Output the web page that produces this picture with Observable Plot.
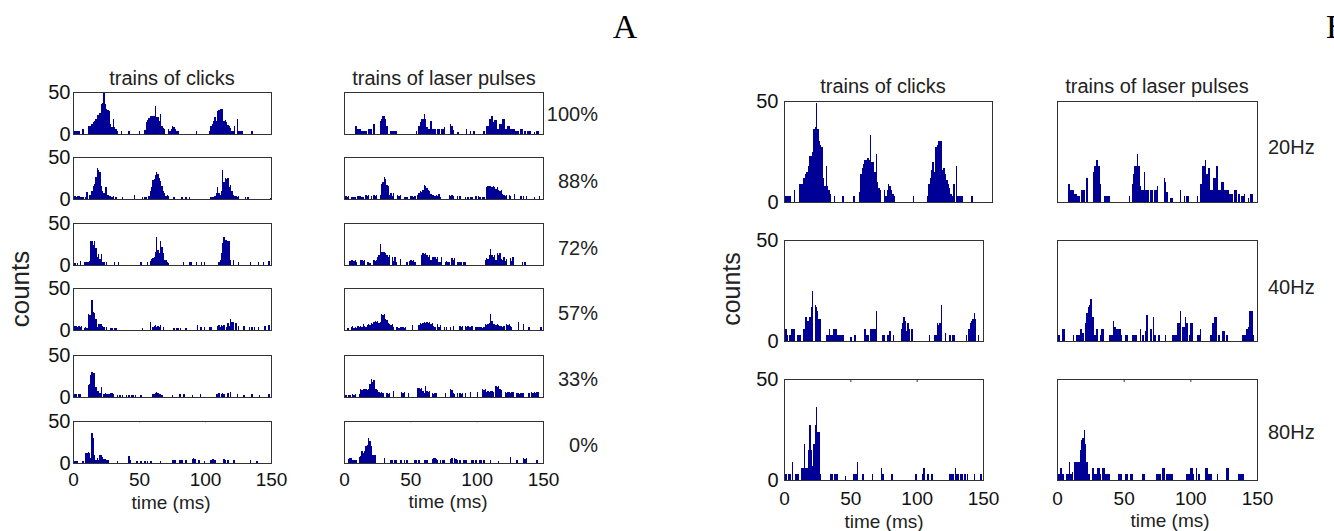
<!DOCTYPE html>
<html><head><meta charset="utf-8">
<script src="https://cdn.jsdelivr.net/npm/d3@7"></script>
<script src="https://cdn.jsdelivr.net/npm/@observablehq/plot@0.6"></script>
<style>
body{margin:0;background:#fff;}
#fig{position:relative;width:1334px;height:531px;overflow:hidden;background:#fff;font-family:"Liberation Sans",Arial,Helvetica,sans-serif;}
#fig svg.ann{position:absolute;left:0;top:0;pointer-events:none;}
</style></head><body><div id="fig"></div>
<script>
// ---------- labels / ticks ----------
const timeTicks = [0, 50, 100, 150];
const countTicks = [0, 50];
const columnTitles = ["trains of clicks", "trains of laser pulses"];
const percentLabels = ["100%", "88%", "72%", "57%", "33%", "0%"];
const rateLabels = ["20Hz", "40Hz", "80Hz"];
const panelLetters = ["A", "B"];
const xLabel = "time (ms)";
const yLabel = "counts";

// ---------- spike counts per 1 ms bin (0..149 ms) ----------
const clicks100 = [
 3,3,3,3,3,0,0,6,0,0,
 0,9,9,9,12,14,15,18,23,23,
 25,36,37,49,36,30,28,27,12,8,
 18,8,6,4,0,0,3,0,0,0,
 0,0,3,0,0,0,0,0,0,0,
 3,0,0,0,5,14,17,19,21,21,
 22,21,33,20,20,15,24,10,7,6,
 0,0,6,3,6,9,8,6,4,3,
 0,0,0,0,0,0,0,0,0,0,
 0,0,0,3,0,0,0,0,0,0,
 0,0,0,3,9,12,16,20,15,27,
 28,30,30,30,16,17,14,11,9,7,
 4,3,9,0,18,3,3,3,3,0,
 0,0,0,0,0,3,0,0,0,0,
 0,0,0,0,0,0,0,0,0,0];
const clicks88 = [
 3,3,2,3,3,2,2,2,0,2,
 8,0,5,5,10,15,18,26,37,35,
 32,15,10,7,14,14,5,3,3,2,
 3,0,2,0,0,0,0,2,0,0,
 0,0,0,0,0,0,5,0,0,0,
 0,0,2,0,2,2,0,3,9,14,
 23,24,28,32,30,25,22,15,10,7,
 3,5,3,0,0,0,2,0,0,0,
 0,0,2,0,0,2,0,0,2,0,
 0,0,0,0,0,0,0,0,0,0,
 0,0,0,0,2,2,2,4,7,14,
 7,5,10,34,20,25,24,25,14,17,
 9,5,3,3,2,3,0,0,0,0,
 2,0,2,0,0,0,0,0,0,0,
 0,0,0,0,0,0,0,0,0,1];
const clicks72 = [
 2,2,0,2,0,5,0,0,3,3,
 3,4,5,28,28,24,28,20,10,13,
 7,13,3,3,0,3,0,0,0,0,
 0,3,0,0,3,0,0,0,0,0,
 0,0,0,0,0,0,0,0,0,0,
 0,3,0,0,0,0,3,0,5,7,
 8,10,16,33,18,14,28,22,14,6,
 6,4,2,0,0,0,0,0,0,0,
 0,0,0,3,0,0,0,0,3,3,
 0,0,0,3,0,0,0,3,0,3,
 0,0,0,0,0,0,0,0,0,0,
 3,6,14,26,33,30,30,28,28,6,
 0,6,0,0,0,3,0,0,0,0,
 0,0,0,0,3,0,0,0,0,0,
 3,0,0,0,3,0,0,0,5,0];
const clicks57 = [
 4,5,5,4,5,4,5,0,2,3,
 2,19,18,18,36,22,20,13,3,7,
 7,7,5,3,0,3,0,0,2,2,
 0,2,2,0,0,0,0,0,0,0,
 0,0,0,0,0,0,0,0,0,0,
 0,0,2,0,0,0,0,0,9,0,
 4,5,6,4,5,3,6,0,4,0,
 0,0,0,0,0,0,2,0,2,2,
 0,2,0,0,0,2,0,0,0,0,
 0,0,0,0,6,0,3,3,0,3,
 0,0,0,3,3,0,0,0,0,5,
 6,4,6,5,6,0,3,8,5,13,
 10,9,0,8,0,5,0,0,0,5,
 0,0,0,3,0,3,0,3,0,0,
 3,0,0,0,0,5,0,0,6,0];
const clicks33 = [
 3,3,3,0,3,3,0,0,0,0,
 0,14,15,26,30,29,28,12,7,7,
 5,12,0,4,5,4,4,4,5,5,
 3,0,0,2,0,2,0,2,0,0,
 2,0,2,0,2,2,0,2,0,0,
 0,2,0,0,0,0,0,0,0,0,
 3,4,5,6,5,4,3,2,0,0,
 0,0,0,0,0,2,0,0,0,0,
 4,4,0,3,3,0,0,0,0,0,
 2,0,0,0,0,0,3,0,0,0,
 0,0,0,0,0,0,0,0,3,4,
 5,0,4,5,4,0,0,5,0,6,
 0,0,0,0,3,0,0,0,0,2,
 0,0,0,0,0,3,0,0,0,0,
 0,2,0,0,0,0,0,0,3,0];
const clicks0 = [
 0,2,2,2,0,0,0,2,0,12,
 12,13,12,6,36,30,10,4,6,3,
 9,10,7,5,5,4,3,0,0,0,
 0,0,0,2,0,0,0,0,0,0,
 0,0,8,3,0,0,0,0,2,0,
 0,2,0,0,2,0,2,0,2,2,
 0,0,0,0,0,0,2,0,0,0,
 0,0,0,0,0,3,3,3,0,0,
 3,3,3,0,0,3,0,0,0,0,
 5,6,5,0,0,3,0,0,0,2,
 0,0,0,0,4,5,5,4,0,0,
 0,0,0,0,5,4,0,4,0,0,
 0,3,3,0,0,0,0,0,0,0,
 0,0,0,0,3,0,0,0,0,2,
 0,0,0,0,0,0,0,0,0,0];
const laser100 = [
 0,0,0,0,0,0,0,0,9,9,
 6,6,6,4,4,3,3,0,6,6,
 6,0,12,0,0,0,0,15,18,21,
 21,18,9,0,0,3,3,3,3,3,
 0,0,0,0,0,0,0,0,0,0,
 0,0,0,0,3,0,9,14,18,18,
 24,18,8,6,6,15,6,6,6,0,
 6,6,0,6,6,8,0,0,0,0,
 12,10,5,0,0,2,2,0,0,0,
 0,0,6,0,0,3,0,3,3,0,
 0,0,0,0,0,3,0,9,9,18,
 18,21,14,17,17,6,6,12,12,18,
 18,6,6,10,10,6,6,6,6,4,
 4,4,0,6,6,0,4,0,3,3,
 4,0,0,2,0,4,4,0,0,0];
const laser88 = [
 3,3,2,3,0,2,2,2,2,0,
 3,3,3,2,2,0,5,4,5,0,
 3,0,5,4,5,0,0,5,18,20,
 26,24,17,16,5,7,4,7,0,0,
 5,4,5,0,0,2,2,2,0,0,
 3,3,2,3,0,5,7,9,8,11,
 17,15,13,11,9,6,5,5,4,5,
 3,6,2,0,0,0,0,0,0,5,
 4,5,3,0,0,3,0,3,0,0,
 0,2,0,2,0,2,2,0,0,3,
 0,3,2,0,2,2,0,14,16,15,
 16,14,15,14,12,14,11,9,11,6,
 5,4,5,0,5,3,0,0,6,0,
 0,0,0,3,0,3,0,3,0,0,
 0,0,0,2,0,0,0,3,0,0];
const laser72 = [
 4,0,0,0,5,6,6,5,6,3,
 0,0,6,6,5,6,0,3,3,2,
 0,0,6,5,6,10,12,25,16,15,
 16,14,12,10,12,0,9,5,9,4,
 0,0,7,0,0,0,0,3,0,5,
 6,5,6,4,0,0,0,0,12,14,
 13,14,12,10,12,6,10,9,10,7,
 10,4,4,9,0,0,4,5,4,4,
 0,8,6,8,0,4,4,3,4,0,
 4,3,0,0,0,0,0,0,0,0,
 0,0,0,0,0,0,6,8,7,12,
 19,12,10,12,6,14,12,14,7,6,
 10,5,7,0,0,8,5,10,0,0,
 0,0,0,0,3,0,4,0,0,0,
 0,0,0,0,0,0,0,0,0,0];
const laser57 = [
 0,0,2,2,0,3,5,2,3,2,
 5,3,5,3,7,5,3,6,7,6,
 8,7,9,11,10,11,8,9,19,18,
 19,13,12,8,7,6,7,3,0,3,
 3,2,3,3,3,2,3,0,0,0,
 0,6,0,0,0,0,6,8,7,8,
 9,8,10,8,9,7,8,5,4,0,
 7,4,6,0,0,3,0,3,0,0,
 3,0,5,0,0,0,0,5,4,5,
 0,5,4,5,4,3,5,0,0,3,
 3,3,3,3,2,3,7,6,7,8,
 19,11,7,7,6,7,6,5,5,4,
 5,0,7,6,7,5,3,0,0,0,
 0,10,0,0,0,7,0,0,0,3,
 0,0,0,0,0,0,0,0,3,0];
const laser33 = [
 2,2,0,2,2,0,3,2,3,0,
 0,3,9,8,9,10,9,8,9,16,
 21,18,20,9,10,8,6,5,6,5,
 0,0,5,4,5,0,0,7,0,0,
 0,0,0,6,5,6,0,0,5,0,
 0,0,0,0,0,11,11,10,11,7,
 5,13,7,6,7,0,5,4,5,5,
 0,0,0,0,0,0,5,0,0,0,
 9,8,5,4,0,5,0,5,4,5,
 0,5,0,0,0,6,0,0,0,0,
 6,0,0,0,9,8,9,6,7,6,
 7,7,6,0,13,12,13,9,8,0,
 0,6,5,6,6,5,6,6,0,0,
 5,5,4,5,5,5,0,0,0,5,
 0,6,5,6,5,6,6,0,0,0];
const laser0 = [
 0,0,0,5,6,6,3,3,3,3,
 0,7,8,14,12,14,20,21,30,26,
 20,10,9,10,0,0,0,0,0,0,
 6,0,0,0,0,3,3,0,3,3,
 0,0,3,3,0,3,0,3,0,0,
 0,0,0,3,3,0,3,0,0,0,
 3,3,3,0,0,0,5,6,6,5,
 3,0,3,0,3,3,0,0,0,0,
 5,6,0,6,5,3,0,3,0,0,
 3,3,3,0,0,0,3,3,0,3,
 0,0,3,3,0,3,0,0,0,0,
 3,0,0,0,0,0,2,0,0,0,
 0,0,0,0,0,7,0,0,0,0,
 3,0,0,0,0,6,5,6,0,0,
 0,0,0,0,0,3,0,0,0,0];
// panel B: 20 Hz is the same recording as the 100% row of panel A
const clicks20Hz = clicks100;
const laser20Hz = laser100;
const clicks40Hz = [
 6,6,3,0,3,6,6,6,0,0,
 3,3,3,0,6,6,12,10,10,12,
 17,25,0,18,17,15,11,11,0,0,
 0,0,3,3,6,3,3,6,6,6,
 3,3,3,3,3,0,0,0,0,0,
 2,0,0,3,0,0,0,0,0,0,
 6,6,3,3,0,6,6,6,6,15,
 0,0,0,0,3,3,0,0,3,5,
 5,0,3,0,0,0,0,0,6,9,
 12,10,5,9,6,0,6,0,0,0,
 0,0,0,0,0,0,0,0,0,3,
 0,0,0,3,3,9,8,9,18,0,
 0,4,0,0,3,3,0,3,3,0,
 0,0,0,0,0,0,0,3,0,6,
 9,10,11,14,11,0,3,0,0,0];
const laser40Hz = [
 3,3,0,0,6,6,0,0,0,0,
 0,0,3,0,3,3,3,6,6,4,
 0,9,14,17,18,21,12,12,3,6,
 6,0,3,6,6,0,0,0,0,3,
 3,3,10,7,6,6,6,6,3,0,
 0,3,3,0,0,0,3,3,3,3,
 0,0,6,0,3,0,5,13,0,0,
 6,0,12,3,0,0,3,0,0,0,
 0,3,0,0,0,0,3,3,3,3,
 9,9,15,0,7,7,12,9,0,3,
 9,9,0,0,0,3,3,6,0,0,
 0,0,0,0,0,3,9,9,12,12,
 0,3,0,0,5,5,0,3,0,0,
 0,0,0,0,0,0,0,0,0,3,
 3,3,6,7,15,15,15,3,0,0];
const clicks80Hz = [
 3,3,0,3,3,0,9,0,3,3,
 3,0,0,6,6,18,6,6,15,27,
 15,7,18,27,36,24,24,3,0,0,
 0,0,0,0,0,3,3,0,3,3,
 3,0,0,0,0,0,2,0,0,0,
 0,0,3,3,3,9,0,0,0,3,
 0,0,0,0,0,0,3,0,0,0,
 0,0,0,6,3,0,0,0,0,0,
 0,3,0,0,0,0,0,0,0,0,
 0,0,0,0,0,0,0,0,0,3,
 0,0,0,0,3,6,0,0,3,0,
 0,3,0,0,0,0,0,0,0,0,
 0,0,0,0,3,3,3,3,0,6,
 3,3,0,3,3,0,3,0,3,0,
 0,0,0,3,0,0,0,0,3,0];
const laser80Hz = [
 3,3,6,6,3,0,0,3,3,9,
 3,4,0,9,9,9,9,15,20,21,
 25,18,9,3,3,0,6,6,3,3,
 6,6,3,0,6,6,3,3,3,3,
 0,0,0,0,0,0,3,3,3,0,
 0,3,3,0,0,3,3,0,0,0,
 0,0,0,0,3,3,0,0,0,0,
 0,0,0,0,3,3,3,3,0,6,
 6,0,3,3,3,3,3,0,0,0,
 0,0,0,0,0,0,0,3,3,3,
 6,6,3,0,6,0,3,0,0,0,
 0,6,6,3,3,3,0,0,0,0,
 3,0,0,0,0,0,0,6,6,0,
 0,0,0,0,0,0,3,3,3,3,
 0,0,0,0,0,0,0,0,0,0];

const panelAClicks = [clicks100, clicks88, clicks72, clicks57, clicks33, clicks0];
const panelALaser  = [laser100, laser88, laser72, laser57, laser33, laser0];
const panelBClicks = [clicks20Hz, clicks40Hz, clicks80Hz];
const panelBLaser  = [laser20Hz, laser40Hz, laser80Hz];

// ---------- drawing ----------
const BAR = "#000096";
const INK = "#222";
const FONT = '"Liberation Sans", Arial, Helvetica, sans-serif';
const fig = document.getElementById("fig");

function hist(counts, o) {
  const bins = counts.map((c, i) => ({t0: i, t1: i + 1, c})).filter(d => d.c > 0);
  const mL = 44, mR = 6, mT = 8, mB = o.xAxis ? 46 : 8;
  const chart = Plot.plot({
    width: o.w + mL + mR, height: o.h + mT + mB,
    marginLeft: mL, marginRight: mR, marginTop: mT, marginBottom: mB,
    style: {fontFamily: FONT, background: "transparent", color: INK, overflow: "visible"},
    x: {domain: [0, 150], axis: null},
    y: {domain: [0, 50], axis: null},
    marks: [
      Plot.rectY(bins, {x1: "t0", x2: "t1", y: "c", fill: BAR, shapeRendering: "crispEdges"}),
      Plot.frame({stroke: "#333", strokeWidth: 1}),
      o.yAxis ? Plot.axisY(countTicks, {tickSize: 0, tickPadding: o.yPad, fontSize: 20, label: null, fill: "#111"}) : null,
      o.xAxis ? Plot.axisX(timeTicks, {tickSize: 0, tickPadding: o.xPad, fontSize: 19, label: null, fill: "#111"}) : null,
      o.xAxis ? Plot.ruleX([50, 100], {y1: 50, y2: 48.5, stroke: "#333"}) : null
    ]
  });
  chart.style.position = "absolute";
  chart.style.left = (o.x - mL) + "px";
  chart.style.top = (o.y - mT) + "px";
  fig.appendChild(chart);
}

// panel A layout
const aRows = [92, 157, 223, 288, 355, 421];
panelAClicks.forEach((d, i) => hist(d, {x: 73, y: aRows[i], w: 198, h: 42, yAxis: true, yPad: 3, xAxis: i === 5, xPad: 9}));
panelALaser.forEach((d, i) => hist(d, {x: 344, y: aRows[i], w: 199, h: 42, yAxis: false, xAxis: i === 5, xPad: 9}));

// panel B layout
const bRows = [101, 240, 379];
const bW = [208, 199, 199];
panelBClicks.forEach((d, i) => hist(d, {x: 784, y: bRows[i], w: bW[i], h: 101, yAxis: true, yPad: 6, xAxis: i === 2, xPad: 11}));
panelBLaser.forEach((d, i) => hist(d, {x: 1057, y: bRows[i], w: 200, h: 101, yAxis: false, xAxis: i === 2, xPad: 11}));

// annotation text
const ann = d3.select(fig).append("svg").attr("class", "ann")
  .attr("width", 1334).attr("height", 531)
  .style("font-family", FONT);
function txt(x, y, s, size, anchor = "middle", extra = {}) {
  const t = ann.append("text").attr("x", x).attr("y", y).text(s)
    .attr("font-size", size).attr("text-anchor", anchor)
    .attr("dominant-baseline", "central").attr("fill", extra.fill || INK);
  if (extra.rotate) t.attr("transform", `rotate(-90 ${x} ${y})`);
  if (extra.family) t.attr("font-family", extra.family);
  return t;
}
txt(625, 26, panelLetters[0], 34, "middle", {family: '"Liberation Serif", "Times New Roman", serif', fill: "#000"});
txt(1326, 26, panelLetters[1], 34, "start", {family: '"Liberation Serif", "Times New Roman", serif', fill: "#000"});

txt(172, 78, columnTitles[0], 20);
txt(444, 78, columnTitles[1], 20);
txt(883, 86, columnTitles[0], 20);
txt(1157, 86, columnTitles[1], 20);

const pctY = [114, 181, 248, 313, 379, 445];
percentLabels.forEach((s, i) => txt(598, pctY[i], s, 20, "end"));
const rateY = [147, 287, 432];
rateLabels.forEach((s, i) => txt(1268, rateY[i], s, 20, "start"));

txt(20, 289, yLabel, 26, "middle", {rotate: true});
txt(731, 289, yLabel, 25, "middle", {rotate: true});

txt(171, 502, xLabel, 19);
txt(448, 501, xLabel, 19);
txt(884, 521, xLabel, 19);
txt(1170, 520, xLabel, 19);
</script></body></html>
